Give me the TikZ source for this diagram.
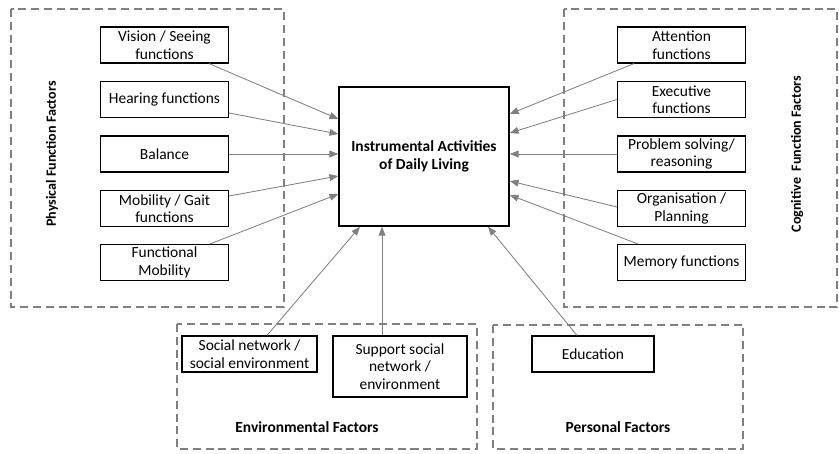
\documentclass[tikz,border=0pt]{standalone}
\usepackage{fontspec}
\setmainfont{Carlito}
\usetikzlibrary{arrows.meta}

\definecolor{linegray}{RGB}{128,128,128}

\begin{document}
\begin{tikzpicture}[x=0.025cm, y=-0.025cm,
  factor/.style={draw, line width=0.8pt, align=center, font=\fontsize{11}{12.5}\selectfont,
    minimum width=3.2cm, minimum height=0.9cm, inner sep=1pt},
  panel/.style={draw=linegray, line width=1pt, dash pattern=on 2mm off 1.2mm},
  title/.style={font=\bfseries\fontsize{11}{13}\selectfont},
  link/.style={draw=linegray, line width=0.6pt, -{Triangle[length=2.2mm, width=1.7mm]}}]

  \useasboundingbox (0,0) rectangle (839,453);

  % dashed groups
  \draw[panel] (11,9) rectangle (284,307);
  \draw[panel] (564,9) rectangle (837,307);
  \draw[panel] (177,324) rectangle (477,449);
  \draw[panel] (493,325) rectangle (743,449);

  \node[title, rotate=90, font=\bfseries\fontsize{10}{12}\selectfont] (physlabel) at (52,154) {Physical Function Factors};
  \node[title, rotate=90, font=\bfseries\fontsize{10}{12}\selectfont] (coglabel) at (797,154) {Cognitive~~Function Factors};
  \node[title] (envlabel) at (307,427) {Environmental Factors};
  \node[title] (perslabel) at (618,427) {Personal Factors};

  % central outcome
  \node[draw, line width=1pt, minimum width=4.25cm, minimum height=3.475cm, align=center,
    font=\bfseries\fontsize{11}{13}\selectfont] (iadl) at (424,156.5)
    {Instrumental Activities\\of Daily Living};

  % physical function factors
  \node[factor] (vision) at (164.5,45) {Vision / Seeing\\functions};
  \node[factor] (hearing) at (164.5,99.5) {Hearing functions};
  \node[factor] (balance) at (164.5,154) {Balance};
  \node[factor] (mobility) at (164.5,208.5) {Mobility / Gait\\functions};
  \node[factor] (functional) at (164.5,262.5) {Functional\\Mobility};

  % cognitive function factors
  \node[factor] (attention) at (681.5,45) {Attention\\functions};
  \node[factor] (executive) at (681.5,99.5) {Executive\\functions};
  \node[factor] (problem) at (681.5,154) {Problem solving/\\reasoning};
  \node[factor] (organisation) at (681.5,208.5) {Organisation /\\Planning};
  \node[factor] (memory) at (681.5,262.5) {Memory functions};

  % environmental and personal factors
  \node[factor, minimum width=3.375cm] (social) at (249.5,354) {Social network /\\social environment};
  \node[factor, minimum width=3.35cm, minimum height=1.525cm] (support) at (400,366.5)
    {Support social\\network /\\environment};
  \node[factor, minimum width=3.05cm] (education) at (593,354) {Education};

  % arrows into the centre
  \draw[link] (vision.south -| 209,0) -- (iadl.west |- 0,119);
  \draw[link] (hearing.east |- 0,113) -- (iadl.west |- 0,134);
  \draw[link] (balance.east) -- (iadl.west |- 0,154);
  \draw[link] (mobility.east |- 0,196) -- (iadl.west |- 0,176);
  \draw[link] (functional.north -| 210,0) -- (iadl.west |- 0,194);

  \draw[link] (attention.south -| 634,0) -- (iadl.east |- 0,114);
  \draw[link] (executive.west) -- (iadl.east |- 0,133);
  \draw[link] (problem.west) -- (iadl.east |- 0,154);
  \draw[link] (organisation.west |- 0,207) -- (iadl.east |- 0,181);
  \draw[link] (memory.north -| 638,0) -- (iadl.east |- 0,195);

  \draw[link] (social.north -| 267,0) -- (iadl.south -| 360,0);
  \draw[link] (support.north -| 382,0) -- (iadl.south -| 382,0);
  \draw[link] (education.north -| 577,0) -- (iadl.south -| 488,0);

\end{tikzpicture}
\end{document}
